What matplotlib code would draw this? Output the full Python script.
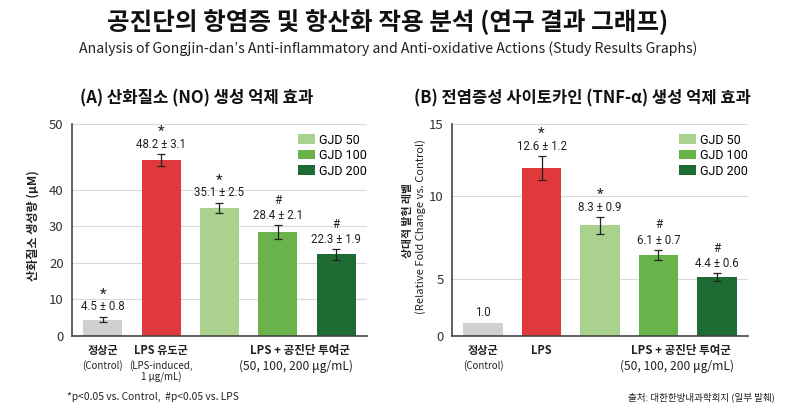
import matplotlib
matplotlib.use('Agg')
import matplotlib.pyplot as plt
from matplotlib.patches import Patch
import numpy as np

plt.rcParams['font.family'] = ['Noto Sans CJK KR', 'DejaVu Sans']
LATIN = ['Roboto', 'Noto Sans CJK KR']

# data
groups = ['정상군', 'LPS 유도군', 'GJD 50', 'GJD 100', 'GJD 200']
colors = ['#d0d0d0', '#e0393b', '#aad18d', '#6ab34a', '#1e6b34']
legend_names = ['GJD 50', 'GJD 100', 'GJD 200']

no_vals = [4.5, 48.2, 35.1, 28.4, 22.3]
no_sd = [0.8, 3.1, 2.5, 2.1, 1.9]          # as printed in the labels
no_err = [0.8, 1.6, 1.4, 1.9, 1.4]         # as drawn
no_marks = ['*', '*', '*', '#', '#']
no_ticks = [0, 10, 20, 30, 40, 58]
no_ticklabels = ['0', '10', '20', '30', '40', '50']
no_ylim = 58

tnf_vals = [1.0, 12.6, 8.3, 6.1, 4.4]
tnf_sd = [None, 1.2, 0.9, 0.7, 0.6]
tnf_err = [0, 0.9, 0.63, 0.37, 0.3]
tnf_marks = ['', '*', '*', '#', '#']
tnf_ticks = [0, 4.3, 10.5, 15.9]
tnf_ticklabels = ['0', '5', '10', '15']
tnf_ylim = 15.9

fig = plt.figure(figsize=(8, 4.11), dpi=100)

fig.text(0.485, 1 - 22 / 411, '공진단의 항염증 및 항산화 작용 분석 (연구 결과 그래프)',
         ha='center', va='center', fontsize=17.7, fontweight='heavy', color='#111111')
fig.text(0.485, 1 - 49 / 411,
         'Analysis of Gongjin-dan\u2019s Anti-inflammatory and Anti-oxidative Actions (Study Results Graphs)',
         ha='center', va='center', fontsize=10.2, color='#222222')


def draw_panel(ax, vals, err, sd, marks, ticks, ticklabels, ylim):
    x = np.arange(len(vals))
    ax.bar(x, vals, width=0.67, color=colors, zorder=2)
    yerr = np.array(err)
    has = yerr > 0
    ax.errorbar(x[has], np.array(vals)[has], yerr=yerr[has], fmt='none',
                ecolor='#222222', elinewidth=0.9, capsize=3.2, capthick=0.9, zorder=3)
    for xi, v, e, s, m in zip(x, vals, err, sd, marks):
        top = v + e
        txt = '{:.1f}'.format(v) if s is None else '{:.1f} \u00b1 {:.1f}'.format(v, s)
        ax.annotate(txt, (xi, top), xytext=(0, 7), textcoords='offset points',
                    ha='center', va='center', fontsize=8.3, color='#222222',
                    family=LATIN, zorder=4)
        if m == '*':
            ax.annotate(m, (xi, top), xytext=(0, 16), textcoords='offset points',
                        ha='center', va='center', fontsize=11, color='#222222',
                        family=LATIN)
        elif m == '#':
            ax.annotate(m, (xi, top), xytext=(0, 18), textcoords='offset points',
                        ha='center', va='center', fontsize=8.5, color='#222222',
                        family=LATIN)
    ax.set_xlim(-0.53, 4.53)
    ax.set_ylim(0, ylim)
    ax.set_yticks(ticks)
    ax.set_yticklabels(ticklabels, fontsize=9.5, color='#333333')
    ax.set_xticks([])
    ax.yaxis.grid(True, color='#d9d9d9', linewidth=0.8)
    ax.set_axisbelow(True)
    ax.tick_params(axis='y', length=0, pad=6)
    for side in ['top', 'right']:
        ax.spines[side].set_visible(False)
    for side in ['left', 'bottom']:
        ax.spines[side].set_color('#444444')
        ax.spines[side].set_linewidth(1.2)
    handles = [Patch(facecolor=c) for c in colors[2:]]
    ax.legend(handles, legend_names, loc='upper left', bbox_to_anchor=(0.766, 0.955),
              frameon=False, prop={'family': LATIN, 'size': 9}, handlelength=1.36,
              handleheight=0.8, handletextpad=0.35, labelspacing=0.2,
              borderaxespad=0, borderpad=0)


ax1 = fig.add_axes([72 / 800, 75 / 411, 295 / 800, 212 / 411])
draw_panel(ax1, no_vals, no_err, no_sd, no_marks, no_ticks, no_ticklabels, no_ylim)
ax2 = fig.add_axes([452 / 800, 75 / 411, 296 / 800, 212 / 411])
draw_panel(ax2, tnf_vals, tnf_err, tnf_sd, tnf_marks, tnf_ticks, tnf_ticklabels, tnf_ylim)

fig.text(197 / 800, 1 - 98 / 411, '(A) 산화질소 (NO) 생성 억제 효과',
         ha='center', va='center', fontsize=12, fontweight='bold', color='#111111')
fig.text(582 / 800, 1 - 98 / 411, '(B) 전염증성 사이토카인 (TNF-\u03b1) 생성 억제 효과',
         ha='center', va='center', fontsize=11.9, fontweight='bold', color='#111111')

# y labels
fig.text(33 / 800, 1 - 226 / 411, '산화질소 생성량 (\u03bcM)', rotation=90,
         ha='center', va='center', fontsize=8.7, fontweight='bold', color='#222222')
fig.text(408 / 800, 1 - 220 / 411, '상대적 발현 레벨', rotation=90,
         ha='center', va='center', fontsize=7.8, fontweight='bold', color='#222222')
fig.text(421 / 800, 1 - 227 / 411, '(Relative Fold Change vs. Control)', rotation=90,
         ha='center', va='center', fontsize=8, color='#222222')

# x group labels
y1, y2 = (336 - 350) / 212, (336 - 360) / 212
for ax, lps_main, lps_sub in [(ax1, 'LPS 유도군', '(LPS-induced,\n1 \u03bcg/mL)'),
                              (ax2, 'LPS', '')]:
    tr = ax.get_xaxis_transform()
    ax.text(0, y1, '정상군', transform=tr, ha='center', va='center',
            fontsize=8, fontweight='bold', color='#222222')
    ax.text(0, y2, '(Control)', transform=tr, ha='center', va='top',
            fontsize=7, color='#222222')
    ax.text(1, y1, lps_main, transform=tr, ha='center', va='center',
            fontsize=8, fontweight='bold', color='#222222')
    if lps_sub:
        ax.text(1, y2, lps_sub, transform=tr, ha='center', va='top',
                fontsize=7, color='#222222', linespacing=1.1)
    ax.text(3.38, y1, 'LPS + 공진단 투여군', transform=tr, ha='center', va='center',
            fontsize=8.3, fontweight='bold', color='#222222')
    ax.text(3.32, y2, '(50, 100, 200 \u03bcg/mL)', transform=tr, ha='center', va='top',
            fontsize=8.7, color='#222222')

fig.text(67 / 800, 1 - 397 / 411, '*p<0.05 vs. Control,  #p<0.05 vs. LPS',
         ha='left', va='center', fontsize=7.4, color='#222222')
fig.text(775 / 800, 1 - 397 / 411, '출처: 대한한방내과학회지 (일부 발췌)',
         ha='right', va='center', fontsize=6.9, color='#222222')

fig.savefig('out.png', dpi=100)
